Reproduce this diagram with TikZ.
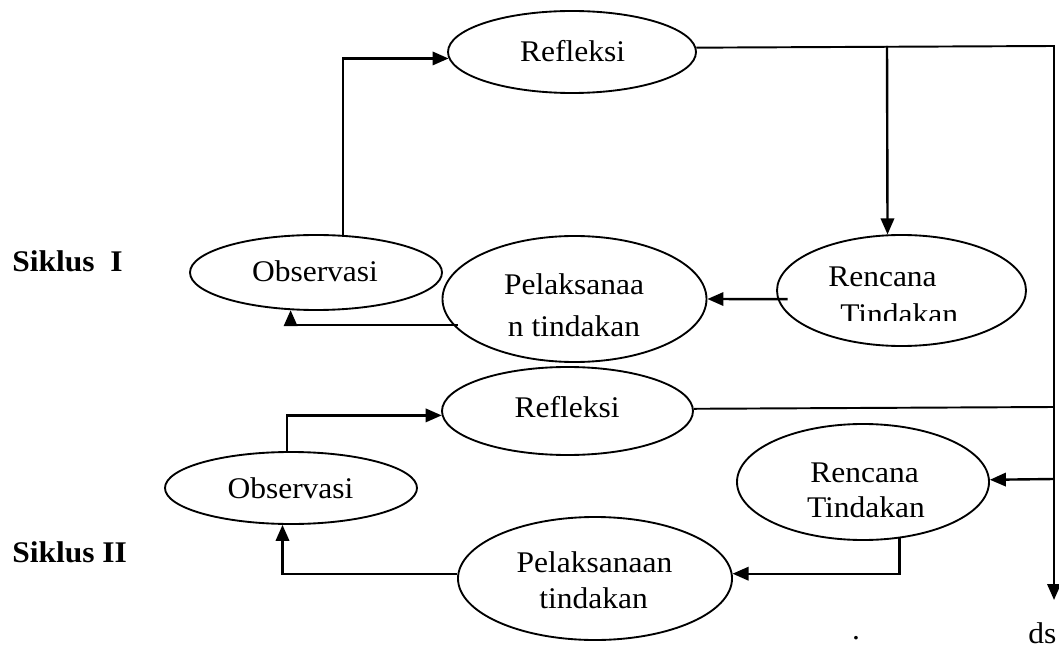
\documentclass[tikz,border=0pt]{standalone}
\usepackage{fontspec}
\setmainfont{Liberation Serif}[FakeStretch=1.05]
\usetikzlibrary{arrows.meta,shapes.geometric}
\tikzset{
  ell/.style={draw, ellipse, inner sep=0pt, line width=1.4pt},
  esize/.style 2 args={minimum width=#1*0.75pt, minimum height=#2*0.75pt},
  conn/.style={line width=1.45pt},
  arr/.style={line width=1.8pt, -{Triangle[length=12pt,width=10pt]}},
  lbl/.style={inner sep=0pt, font=\fontsize{22.5}{26}\selectfont},
  ttl/.style={inner sep=0pt, font=\fontsize{22.5}{26}\selectfont\bfseries}
}
\begin{document}
\begin{tikzpicture}[x=0.75pt,y=-0.75pt]
\fill[white] (0,0) rectangle (1059,648);
\useasboundingbox (0,0) rectangle (1059,648);

% ellipses
\node[ell, esize={248}{82}]  (ref1) at (572,52) {};
\node[ell, esize={252}{75}]  (obs1) at (316,272.5) {};
\node[ell, esize={264}{126}] (pel1) at (574.5,299) {};
\node[ell, esize={249}{111}] (ren1) at (901.5,290.5) {};
\node[ell, esize={251}{88}]  (ref2) at (567.5,411) {};
\node[ell, esize={252}{72}]  (obs2) at (291,488) {};
\node[ell, esize={252}{116}] (ren2) at (863,482) {};
\node[ell, esize={274}{123}] (pel2) at (595,578.5) {};

% helper coordinates
\coordinate (cA) at (1054,46);
\coordinate (cB) at (887,46);
\coordinate (cC) at (1054,407);
\coordinate (cD) at (1054,383);
\coordinate (cE) at (1054,479);
\coordinate (cF) at (1054,600);

% cycle I
\draw[arr] (obs1.54.7) |- (ref1.183.3);
\draw[conn] (ref1.2.8) -- (cA) -- (cC);
\draw[arr] (cB) -- (ren1.104.7);
\draw[arr, shorten <=-7.5pt] (ren1.184.9) -- (pel1.-0.9);
\draw[arr, shorten <=-3.75pt] (pel1.192.75) -| (obs1.236.9);

% cycle II
\draw[arr] (obs2.96.35) |- (ref2.182.3);
\draw[conn] (ref2.1.83) -- (cC);
\draw[arr] (cD) -- (cF);
\draw[arr] (cE) -- (ren2.1.37);
\draw[arr] (ren2.-57.1) |- (pel2.2.73);
\draw[arr] (pel2.178.1) -| (obs2.257.4);

% texts
\node[lbl, anchor=base] (tref1) at (572.5,62) {Refleksi};
\node[lbl, anchor=base] (tobs1) at (315,282) {Observasi};
\node[lbl, anchor=base] (tpel1a) at (574,295) {Pelaksanaa};
\node[lbl, anchor=base] (tpel1b) at (574,336) {n tindakan};
\node[lbl, anchor=base west] (tren1a) at (828,287) {Rencana};
\begin{scope}
  \clip (780,240) rectangle (1020,321);
  \node[lbl, anchor=base west] (tren1b) at (840,325) {Tindakan};
\end{scope}
\node[lbl, anchor=base] (tref2) at (567,417) {Refleksi};
\node[lbl, anchor=base] (tobs2) at (290.5,498) {Observasi};
\node[lbl, anchor=base] (tren2a) at (864.5,482) {Rencana};
\node[lbl, anchor=base] (tren2b) at (866,517) {Tindakan};
\node[lbl, anchor=base] (tpel2a) at (594.5,572) {Pelaksanaan};
\node[lbl, anchor=base] (tpel2b) at (593.5,608) {tindakan};
\node[ttl, anchor=base west] (s1) at (12,272) {Siklus~~I};
\node[ttl, anchor=base west] (s2) at (12,562) {Siklus II};
\node[lbl, anchor=base west] (ds) at (1028,643) {ds};
\node[lbl, anchor=base] (dot) at (856,639) {.};
\end{tikzpicture}
\end{document}
